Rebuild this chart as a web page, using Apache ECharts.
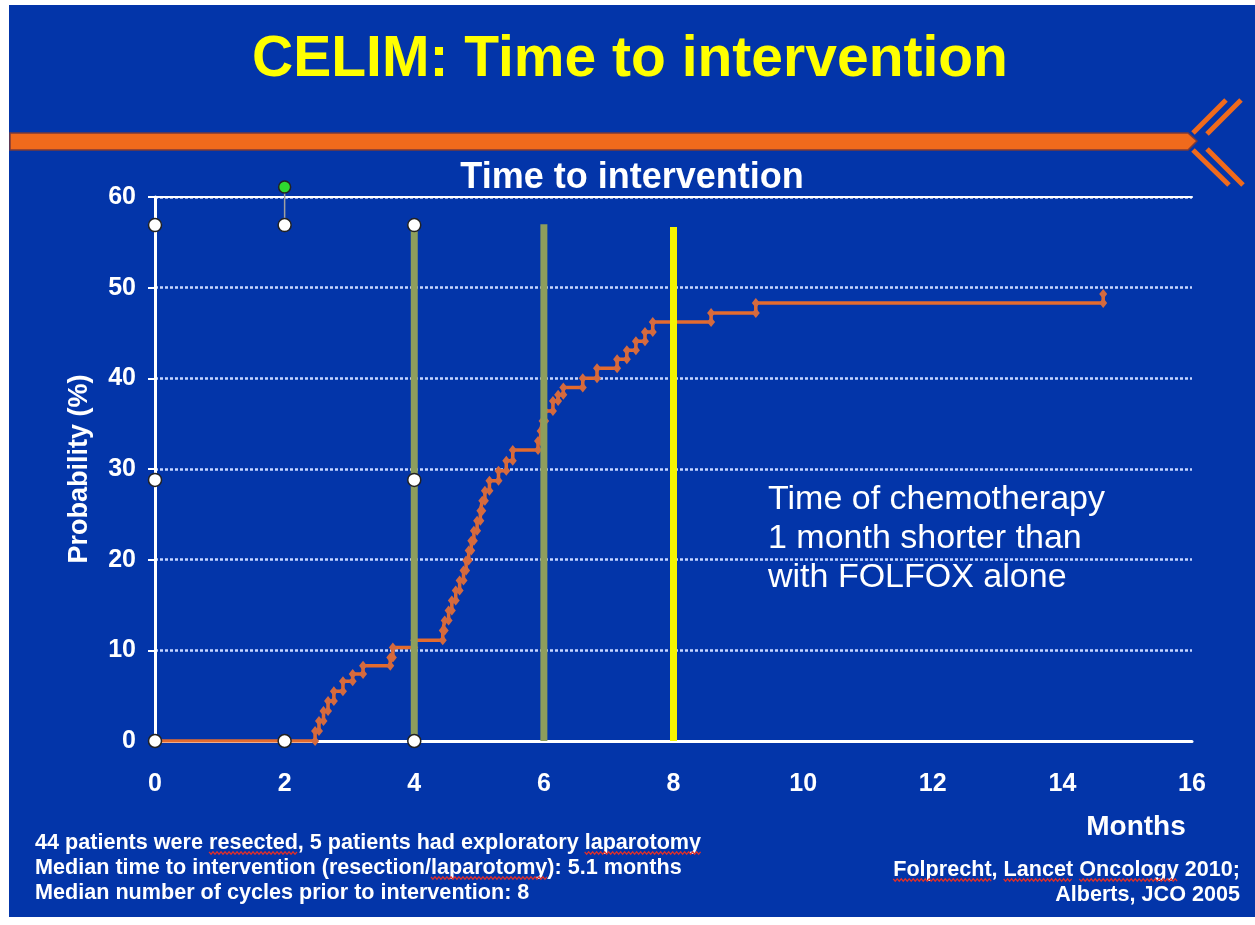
<!DOCTYPE html>
<html>
<head>
<meta charset="utf-8">
<script src="https://cdn.jsdelivr.net/npm/echarts@6/dist/echarts.min.js"></script>
<style>
html,body{margin:0;padding:0;background:#ffffff;}
#chart{width:1255px;height:925px;}
</style>
</head>
<body>
<div id="chart"></div>
<script>
// ---- data ----
const xTicks = [0, 2, 4, 6, 8, 10, 12, 14, 16];
const yTicks = [0, 10, 20, 30, 40, 50, 60];
// time (months) of each event and cumulative probability (%) after it
const eventMonths = [2.47, 2.53, 2.60, 2.67, 2.76, 2.90, 3.05, 3.21, 3.63, 3.67, 4.00,
  4.44, 4.47, 4.53, 4.58, 4.64, 4.70, 4.76, 4.80, 4.84, 4.88, 4.92, 4.97, 5.02, 5.05, 5.09,
  5.16, 5.30, 5.42, 5.52,
  5.91, 5.95, 5.98, 6.02, 6.14, 6.22, 6.30, 6.60, 6.82, 7.13, 7.28, 7.42, 7.56, 7.68,
  8.58, 9.27, 14.63];
const eventProb = [1.1, 2.2, 3.3, 4.4, 5.5, 6.6, 7.4, 8.3, 9.2, 10.3, 11.1,
  12.2, 13.3, 14.4, 15.5, 16.6, 17.7, 18.8, 19.9, 21.0, 22.1, 23.2, 24.3, 25.4, 26.5, 27.6,
  28.7, 29.8, 30.9, 32.1,
  33.1, 34.2, 35.3, 36.4, 37.5, 38.2, 39.0, 40.0, 41.1, 42.1, 43.1, 44.1, 45.1, 46.2,
  47.2, 48.3, 49.3];
// vertical reference lines
const vlineX = [4, 6, 8];
const vlineTop = [57, 57, 56.7];
const vlineColor = ['#8E9E5C', '#8E9E5C', '#F4F400'];
// selection handles (white) and rotation handle (green)
const handleX = [0, 2, 4, 0, 4, 0, 2, 4];
const handleY = [56.9, 56.9, 56.9, 28.8, 28.8, 0, 0, 0];
const rotHandle = [2, 61.1];

const notesLeft = [
  '44 patients were resected, 5 patients had exploratory laparotomy',
  'Median time to intervention (resection/laparotomy): 5.1 months',
  'Median number of cycles prior to intervention: 8'
];
const notesRight = ['Folprecht, Lancet Oncology 2010;', 'Alberts, JCO 2005'];
const annotation = ['Time of chemotherapy', '1 month shorter than', 'with FOLFOX alone'];
// words marked by the spell checker: [line list, line index, word]
const misspelled = [['L', 0, 'resected'], ['L', 0, 'laparotomy'], ['L', 1, 'laparotomy'],
  ['R', 0, 'Folprecht'], ['R', 0, 'Lancet'], ['R', 0, 'Oncology']];

// ---- build stair line ----
const stairs = [[0, 0]];
let prev = 0;
for (let i = 0; i < eventMonths.length; i++) {
  stairs.push([eventMonths[i], prev]);
  stairs.push([eventMonths[i], eventProb[i]]);
  prev = eventProb[i];
}

const FONT = '"Liberation Sans", Arial, sans-serif';
const NOTE_FONT = 'bold 21.6px ' + FONT;
const chart = echarts.init(document.getElementById('chart'), null, {renderer: 'canvas'});

// measure text for the spell-check squiggles
const mctx = document.createElement('canvas').getContext('2d');
mctx.font = NOTE_FONT;
const leftX = 35, rightX = 1240, lineY0L = 843, lineY0R = 870, lineH = 25;
function squiggle(x0, x1, y) {
  const pts = [];
  let up = true;
  for (let x = x0; x <= x1; x += 2) { pts.push([x, y + (up ? -1.2 : 1.2)]); up = !up; }
  return pts;
}
const squiggles = misspelled.map(([side, li, word]) => {
  const line = side === 'L' ? notesLeft[li] : notesRight[li];
  const lineW = mctx.measureText(line).width;
  const start = side === 'L' ? leftX : rightX - lineW;
  const idx = line.indexOf(word);
  const x0 = start + mctx.measureText(line.slice(0, idx)).width;
  const x1 = x0 + mctx.measureText(word).width;
  const y = (side === 'L' ? lineY0L : lineY0R) + li * lineH + 10;
  return {type: 'polyline', shape: {points: squiggle(x0, x1, y)},
    style: {stroke: '#E0302A', lineWidth: 1.2, fill: null}, z: 10};
});

const vSeries = vlineX.map((x, i) => ({
  type: 'line', data: [[x, 0], [x, vlineTop[i]]], showSymbol: false, silent: true,
  lineStyle: {color: vlineColor[i], width: 7}, z: 4, animation: false
}));

const graphics = [
  {type: 'rect', shape: {x: 9, y: 5, width: 1246, height: 912}, style: {fill: '#0335A9'}, z: -10},
  {type: 'polygon', shape: {points: [[10, 133], [1188, 133], [1197, 141], [1188, 150], [10, 150]]},
    style: {fill: '#F06A1C', stroke: '#7A3A3A', lineWidth: 1.5}, z: -5},
  {type: 'polyline', shape: {points: [[1226, 100], [1193, 133]]}, style: {stroke: '#F06A1C', lineWidth: 5}, z: -5},
  {type: 'polyline', shape: {points: [[1241, 100], [1207, 134]]}, style: {stroke: '#F06A1C', lineWidth: 5}, z: -5},
  {type: 'polyline', shape: {points: [[1193, 150], [1229, 185]]}, style: {stroke: '#F06A1C', lineWidth: 5}, z: -5},
  {type: 'polyline', shape: {points: [[1207, 149], [1243, 185]]}, style: {stroke: '#F06A1C', lineWidth: 5}, z: -5},
  {type: 'text', x: 630, y: 60, style: {text: 'CELIM: Time to intervention', fill: '#FFFF00',
    font: 'bold 57px ' + FONT, textAlign: 'center', textVerticalAlign: 'middle'}},
  {type: 'text', x: 632, y: 178, style: {text: 'Time to intervention', fill: '#FFFFFF',
    font: 'bold 36px ' + FONT, textAlign: 'center', textVerticalAlign: 'middle'}},
  {type: 'text', x: 1136, y: 827, style: {text: 'Months', fill: '#FFFFFF',
    font: 'bold 28px ' + FONT, textAlign: 'center', textVerticalAlign: 'middle'}},
  {type: 'text', x: 768, y: 539, style: {text: annotation.join('\n'), fill: '#FFFFFF',
    font: '34px ' + FONT, lineHeight: 39, textAlign: 'left', textVerticalAlign: 'middle'}},
  {type: 'text', x: leftX, y: lineY0L + lineH, style: {text: notesLeft.join('\n'), fill: '#FFFFFF',
    font: NOTE_FONT, lineHeight: lineH, textAlign: 'left', textVerticalAlign: 'middle'}},
  {type: 'text', x: rightX, y: lineY0R + lineH / 2, style: {text: notesRight.join('\n'), fill: '#FFFFFF',
    font: NOTE_FONT, lineHeight: lineH, textAlign: 'right', textVerticalAlign: 'middle'}},
  ...squiggles
];

chart.setOption({
  backgroundColor: '#ffffff',
  animation: false,
  graphic: graphics,
  grid: {left: 155, right: 63, top: 197, bottom: 184, containLabel: false},
  xAxis: [{
    type: 'value', min: 0, max: 16, interval: 2,
    axisLine: {show: true, lineStyle: {color: '#FFFFFF', width: 3}},
    axisTick: {show: false},
    axisLabel: {color: '#FFFFFF', fontFamily: FONT, fontWeight: 'bold', fontSize: 25, margin: 31,
      formatter: v => xTicks.includes(v) ? String(v) : ''},
    splitLine: {show: false}
  }, {
    type: 'value', min: 0, max: 16, position: 'top',
    axisLine: {show: true, lineStyle: {color: '#FFFFFF', width: 2}},
    axisTick: {show: false}, axisLabel: {show: false}, splitLine: {show: false}
  }],
  yAxis: {
    type: 'value', min: 0, max: 60, interval: 10,
    name: 'Probability (%)', nameLocation: 'middle', nameGap: 62,
    nameTextStyle: {color: '#FFFFFF', fontFamily: FONT, fontWeight: 'bold', fontSize: 27},
    axisLine: {show: true, lineStyle: {color: '#FFFFFF', width: 3}},
    axisTick: {show: true, length: 7, lineStyle: {color: '#FFFFFF', width: 2}},
    axisLabel: {color: '#FFFFFF', fontFamily: FONT, fontWeight: 'bold', fontSize: 25, margin: 19,
      formatter: v => yTicks.includes(v) ? String(v) : ''},
    splitLine: {show: true, lineStyle: {color: '#C8D6FF', width: 2.5, type: [3, 2]}}
  },
  series: [
    {type: 'line', data: stairs, symbol: 'diamond', symbolSize: [8, 10], showSymbol: true,
      lineStyle: {color: '#E46B2E', width: 3.5}, itemStyle: {color: '#D56A3E'}, z: 3, animation: false, silent: true},
    ...vSeries,
    {type: 'line', data: [[2, 56.9], rotHandle], showSymbol: false, clip: false, silent: true,
      lineStyle: {color: '#A0A0A0', width: 1.5}, z: 5},
    {type: 'scatter', data: handleX.map((x, i) => [x, handleY[i]]), symbolSize: 13, clip: false, silent: true,
      itemStyle: {color: '#FFFFFF', borderColor: '#222222', borderWidth: 1.5, opacity: 1}, z: 6},
    {type: 'scatter', data: [rotHandle], symbolSize: 12, clip: false, silent: true,
      itemStyle: {color: '#2FD82F', borderColor: '#222222', borderWidth: 1.5, opacity: 1}, z: 6}
  ]
});
</script>
</body>
</html>
